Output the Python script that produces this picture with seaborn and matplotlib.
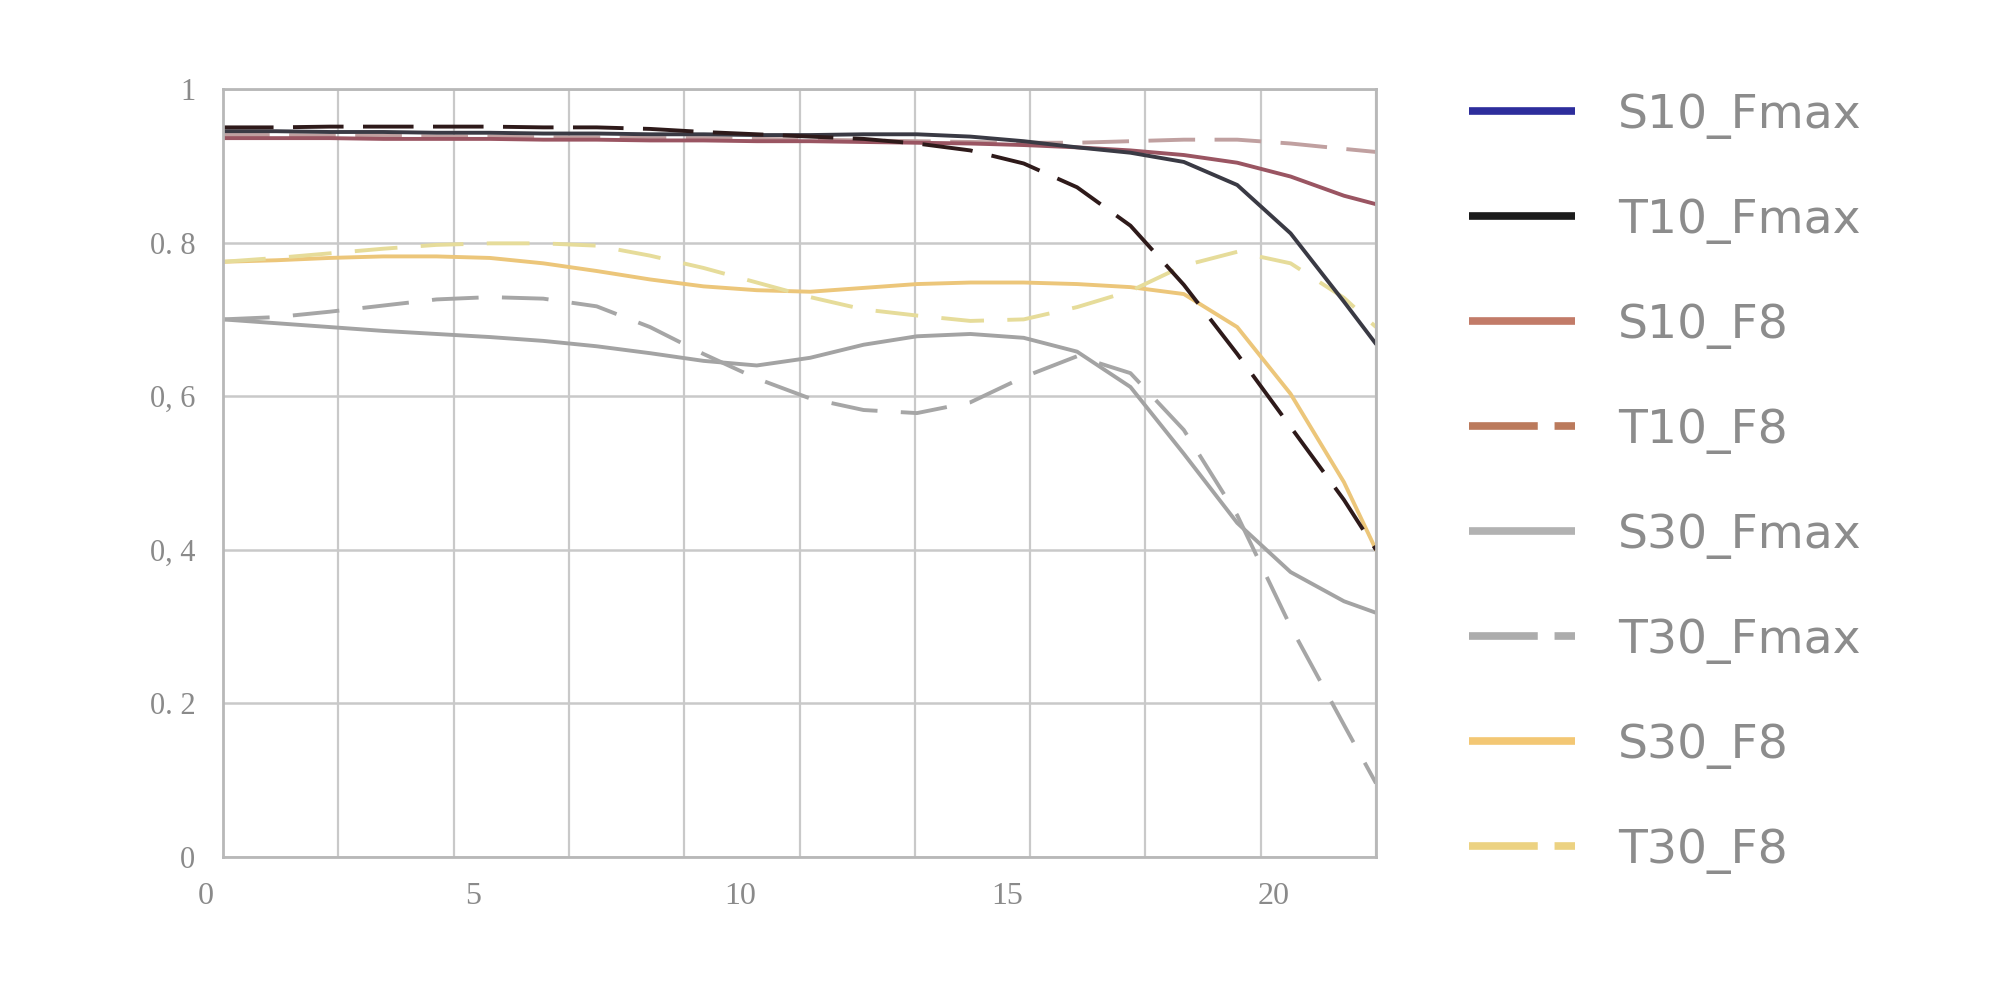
import numpy as np
import pandas as pd
import seaborn as sns
import matplotlib
matplotlib.use("Agg")
import matplotlib.pyplot as plt
from matplotlib.lines import Line2D
from matplotlib.transforms import ScaledTranslation

# image height (mm) and MTF values
x_mm = [0, 1, 2, 3, 4, 5, 6, 7, 8, 9, 10, 11, 12, 13, 14, 15, 16, 17, 18, 19, 20, 21, 21.6]

s10_fmax = [0.945, 0.945, 0.944, 0.944, 0.943, 0.943, 0.942, 0.942, 0.941, 0.941, 0.940, 0.940,
            0.941, 0.941, 0.938, 0.932, 0.924, 0.917, 0.905, 0.875, 0.812, 0.723, 0.668]
t10_fmax = [0.950, 0.950, 0.951, 0.951, 0.951, 0.951, 0.950, 0.950, 0.948, 0.944, 0.941, 0.938,
            0.935, 0.929, 0.920, 0.903, 0.872, 0.822, 0.745, 0.655, 0.560, 0.465, 0.400]
s10_f8 = [0.936, 0.936, 0.936, 0.935, 0.935, 0.935, 0.934, 0.934, 0.933, 0.933, 0.932, 0.932,
          0.931, 0.930, 0.929, 0.927, 0.924, 0.920, 0.914, 0.904, 0.886, 0.861, 0.850]
t10_f8 = [0.940, 0.940, 0.939, 0.939, 0.938, 0.938, 0.937, 0.937, 0.936, 0.936, 0.935, 0.934,
          0.933, 0.932, 0.931, 0.930, 0.930, 0.932, 0.934, 0.934, 0.929, 0.922, 0.918]
s30_fmax = [0.700, 0.695, 0.690, 0.685, 0.681, 0.677, 0.672, 0.665, 0.656, 0.646, 0.640, 0.650,
            0.667, 0.678, 0.681, 0.676, 0.658, 0.612, 0.525, 0.435, 0.371, 0.333, 0.318]
t30_fmax = [0.700, 0.703, 0.710, 0.718, 0.726, 0.729, 0.727, 0.717, 0.690, 0.655, 0.623, 0.597,
            0.582, 0.578, 0.592, 0.625, 0.652, 0.630, 0.556, 0.445, 0.300, 0.172, 0.096]
s30_f8 = [0.775, 0.777, 0.780, 0.782, 0.782, 0.780, 0.773, 0.763, 0.752, 0.743, 0.738, 0.736,
          0.741, 0.746, 0.748, 0.748, 0.746, 0.742, 0.733, 0.690, 0.603, 0.488, 0.400]
t30_f8 = [0.775, 0.780, 0.786, 0.792, 0.797, 0.799, 0.799, 0.796, 0.783, 0.767, 0.748, 0.729,
          0.713, 0.705, 0.698, 0.700, 0.716, 0.737, 0.770, 0.788, 0.773, 0.728, 0.690]

series_names = ["S10_Fmax", "T10_Fmax", "S10_F8", "T10_F8",
                "S30_Fmax", "T30_Fmax", "S30_F8", "T30_F8"]
series_values = [s10_fmax, t10_fmax, s10_f8, t10_f8, s30_fmax, t30_fmax, s30_f8, t30_f8]

y_ticks = [0, 0.2, 0.4, 0.6, 0.8, 1]
y_tick_labels = ["0", "0. 2", "0, 4", "0, 6", "0. 8", "1"]
x_ticks = [0, 5, 10, 15, 20]

# colours as the curves appear in the plot
line_colors = {
    "S10_Fmax": "#3a3a44",
    "T10_Fmax": "#2e1a1a",
    "S10_F8": "#9a5562",
    "T10_F8": "#c0a0a0",
    "S30_Fmax": "#a3a3a3",
    "T30_Fmax": "#a6a6a6",
    "S30_F8": "#ecc67a",
    "T30_F8": "#e6dc9a",
}
line_dashes = {
    "S10_Fmax": "",
    "T10_Fmax": (13, 5),
    "S10_F8": "",
    "T10_F8": (12, 5),
    "S30_Fmax": "",
    "T30_Fmax": (12, 6),
    "S30_F8": "",
    "T30_F8": (11, 6),
}
# colours / styles as shown in the legend
legend_colors = {
    "S10_Fmax": "#2d2d9c",
    "T10_Fmax": "#1c1c1c",
    "S10_F8": "#c27b68",
    "T10_F8": "#bb7a5c",
    "S30_Fmax": "#b2b2b2",
    "T30_Fmax": "#acacac",
    "S30_F8": "#f3c774",
    "T30_F8": "#ecd282",
}
legend_dashed = {"T10_F8", "T30_Fmax", "T30_F8"}

frames = []
for name, vals in zip(series_names, series_values):
    frames.append(pd.DataFrame({"x": x_mm, "mtf": vals, "series": name}))
df = pd.concat(frames, ignore_index=True)

sns.set_style("white")
fig = plt.figure(figsize=(20, 10.02), dpi=100)
ax = fig.add_axes([0.1115, 0.1447, 0.5765, 0.7665])

# draw lower group first so the 10 lp/mm curves sit on top
draw_order = ["S30_Fmax", "T30_Fmax", "S30_F8", "T30_F8",
              "T10_F8", "S10_F8", "S10_Fmax", "T10_Fmax"]
sns.lineplot(
    data=df,
    x="x",
    y="mtf",
    hue="series",
    style="series",
    hue_order=draw_order,
    style_order=draw_order,
    palette=line_colors,
    dashes=line_dashes,
    linewidth=2.8,
    legend=False,
    sort=False,
    ax=ax,
)

ax.set_xlim(0, 21.6)
ax.set_ylim(0, 1)

# grid: 10 equal divisions across, 0.2 steps vertically
ax.set_xticks(x_ticks)
ax.set_xticks(np.linspace(0, 21.6, 11), minor=True)
ax.set_yticks(y_ticks)
ax.set_yticklabels(y_tick_labels)
ax.xaxis.grid(True, which="minor", color="#c9c9c9", linewidth=1.6)
ax.xaxis.grid(False, which="major")
ax.yaxis.grid(True, which="major", color="#c9c9c9", linewidth=1.8)
ax.set_axisbelow(True)

ax.tick_params(axis="both", which="both", length=0)
ax.tick_params(axis="x", pad=18, labelsize=23, labelcolor="#8a8a8a")
ax.tick_params(axis="y", pad=20, labelsize=22, labelcolor="#8a8a8a")
for lab in ax.get_xticklabels() + ax.get_yticklabels():
    lab.set_family(["Liberation Serif", "DejaVu Serif"])

# the tick labels in the original sit a little left of their grid positions
shift = ScaledTranslation(-17 / 100, 0, fig.dpi_scale_trans)
for lab in ax.get_xticklabels():
    lab.set_transform(lab.get_transform() + shift)

for side in ["left", "right", "top", "bottom"]:
    ax.spines[side].set_color("#b8b8b8")
    ax.spines[side].set_linewidth(2)

ax.set_xlabel("")
ax.set_ylabel("")

handles = [
    Line2D([0], [0], color=legend_colors[n], lw=5.5, solid_capstyle="butt",
           dash_capstyle="butt",
           linestyle=(0, (9, 2.2)) if n in legend_dashed else "-", label=n)
    for n in series_names
]
fig.legend(
    handles=handles,
    loc="upper left",
    bbox_to_anchor=(0.713, 0.95),
    frameon=False,
    fontsize=34,
    handlelength=2.25,
    handletextpad=0.92,
    labelspacing=1.25,
    labelcolor="#8c8c8c",
)

fig.savefig("out.png", dpi=100, facecolor="white")
